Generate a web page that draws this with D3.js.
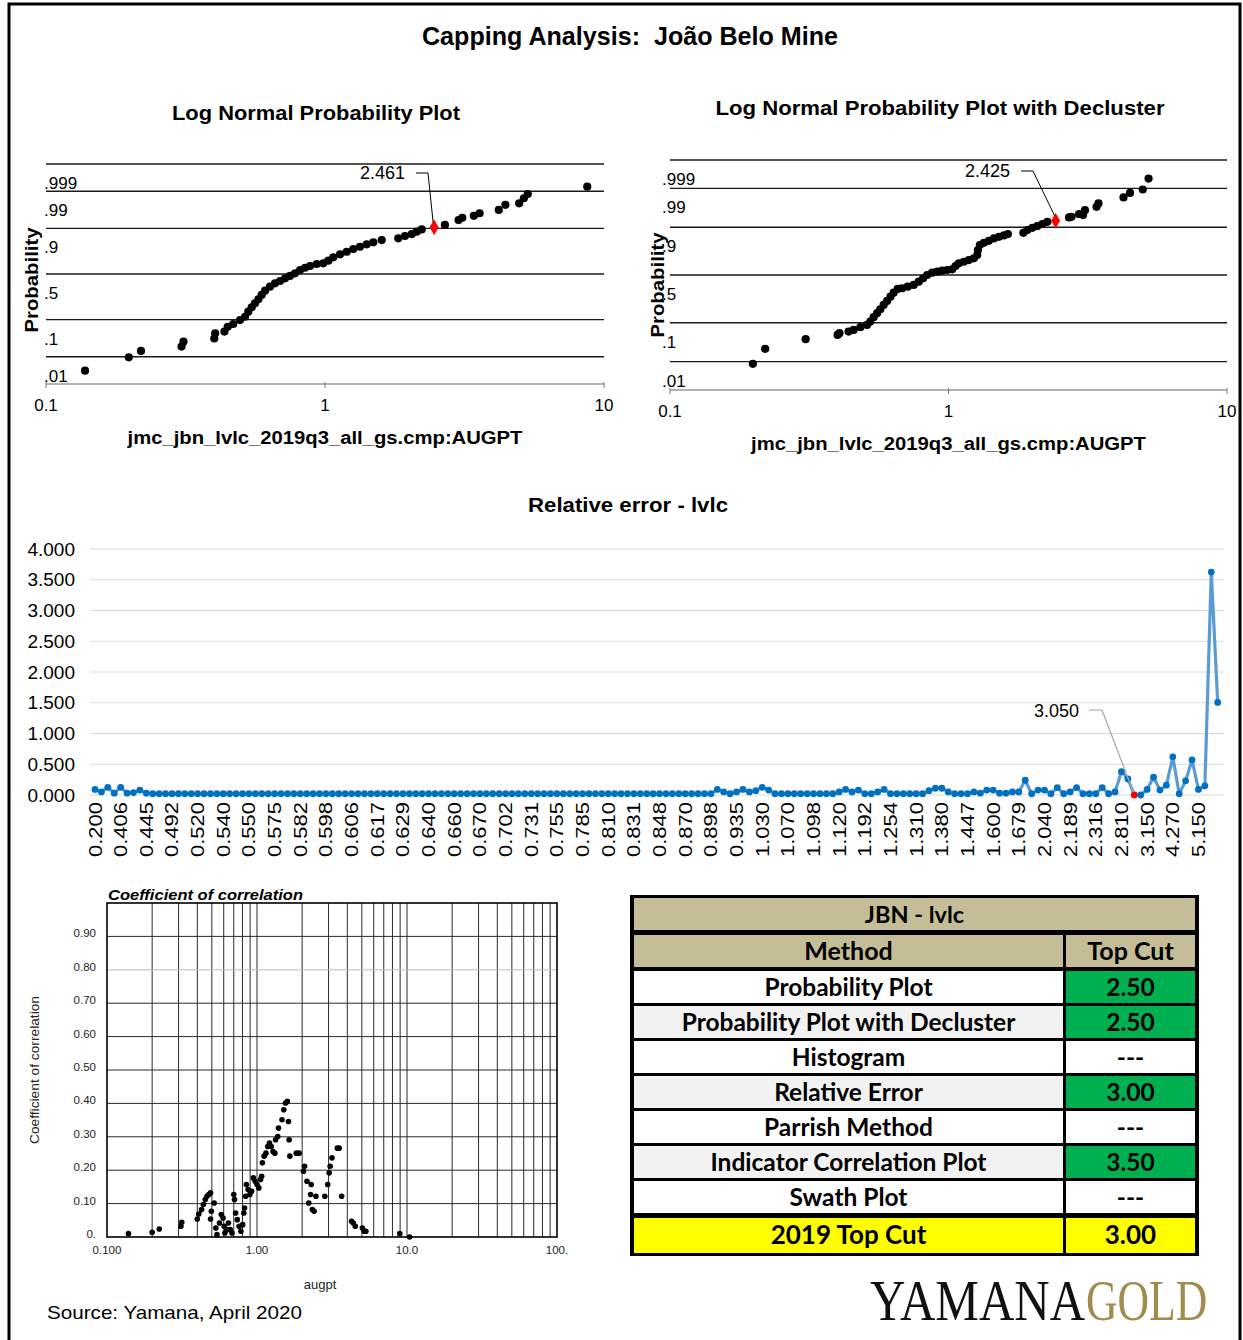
<!DOCTYPE html>
<html>
<head>
<meta charset="utf-8">
<script src="https://cdn.jsdelivr.net/npm/d3@7"></script>
<style>
  body { margin: 0; background: #fff; }
  svg { display: block; font-family: "Liberation Sans", Arial, sans-serif; }
</style>
</head>
<body>
<svg id="chart" width="1243" height="1340"></svg>
<script>
// ---- probability plot (raw) ----
const probGradeL = [0.138, 0.198, 0.219, 0.306, 0.311, 0.401, 0.404, 0.436, 0.448, 0.469,
  0.496, 0.517, 0.531, 0.546, 0.561, 0.577, 0.593, 0.610, 0.635, 0.662,
  0.690, 0.719, 0.749, 0.781, 0.814, 0.848, 0.884, 0.934, 0.986, 1.028,
  1.071, 1.132, 1.196, 1.263, 1.335, 1.411, 1.490, 1.597, 1.831, 1.935,
  2.046, 2.132, 2.222, 2.69, 3.01, 3.105, 3.415, 3.582, 4.197, 4.432,
  4.966, 5.16, 5.33, 8.71];
const probCumL = [0.0033, 0.0096, 0.0154, 0.0207, 0.0287, 0.035, 0.048, 0.053, 0.069, 0.080,
  0.098, 0.115, 0.145, 0.175, 0.205, 0.239, 0.278, 0.320, 0.361, 0.397,
  0.422, 0.452, 0.478, 0.508, 0.545, 0.570, 0.589, 0.611, 0.618, 0.646,
  0.680, 0.710, 0.734, 0.759, 0.778, 0.798, 0.813, 0.830, 0.842, 0.857,
  0.869, 0.883, 0.895, 0.916, 0.935, 0.943, 0.949, 0.956, 0.964, 0.974,
  0.9765, 0.9833, 0.9877, 0.9929];
const capL = { grade: 2.461, cum: 0.905, label: '2.461' };

// ---- probability plot (declustered) ----
const probGradeR = [0.1984, 0.2197, 0.307, 0.3997, 0.406, 0.4378, 0.4563, 0.4826, 0.510, 0.524,
  0.5385, 0.554, 0.569, 0.585, 0.602, 0.619, 0.6355, 0.657, 0.682, 0.714,
  0.750, 0.782, 0.811, 0.838, 0.874, 0.911, 0.949, 0.989, 1.031, 1.060,
  1.089, 1.135, 1.183, 1.233, 1.268, 1.275, 1.296, 1.340, 1.396, 1.455,
  1.517, 1.581, 1.634, 1.857, 1.919, 2.0, 2.085, 2.173, 2.265, 2.708,
  2.765, 2.943, 3.042, 3.09, 3.401, 3.455, 4.25, 4.486, 4.983, 5.228];
const probCumR = [0.0085, 0.0236, 0.0424, 0.0538, 0.059, 0.0643, 0.0701, 0.0805, 0.0901, 0.1053,
  0.1284, 0.1522, 0.1788, 0.2107, 0.2429, 0.2803, 0.3176, 0.3538, 0.3607, 0.3769,
  0.3943, 0.4287, 0.4647, 0.5, 0.5246, 0.5353, 0.5459, 0.5533, 0.5607, 0.5953,
  0.6231, 0.6393, 0.6562, 0.6728, 0.7041, 0.7486, 0.7894, 0.8067, 0.8211, 0.8374,
  0.8477, 0.8564, 0.8642, 0.8716, 0.8862, 0.8976, 0.9055, 0.9142, 0.9235, 0.9391,
  0.941, 0.949, 0.9462, 0.9593, 0.9665, 0.9727, 0.9814, 0.9863, 0.9892, 0.9952];
const capR = { grade: 2.425, cum: 0.9273, label: '2.425' };

const probTicks = [0.999, 0.99, 0.9, 0.5, 0.1, 0.01];
const probTickLabels = ['.999', '.99', '.9', '.5', '.1', '.01'];
const gradeTicks = [0.1, 1, 10];
const gradeTickLabels = ['0.1', '1', '10'];

// ---- relative error ----
const relErrTickLabels = ['0.200', '0.406', '0.445', '0.492', '0.520', '0.540', '0.550', '0.575', '0.582', '0.598',
  '0.606', '0.617', '0.629', '0.640', '0.660', '0.670', '0.702', '0.731', '0.755', '0.785',
  '0.810', '0.831', '0.848', '0.870', '0.898', '0.935', '1.030', '1.070', '1.098', '1.120',
  '1.192', '1.254', '1.310', '1.380', '1.447', '1.600', '1.679', '2.040', '2.189', '2.316',
  '2.810', '3.150', '4.270', '5.150'];
const relErr = [0.09, 0.05, 0.125, 0.03, 0.125, 0.03, 0.04, 0.08, 0.03,
  0.02, 0.02, 0.02, 0.02, 0.02, 0.02, 0.02, 0.02, 0.02, 0.02,
  0.02, 0.02, 0.02, 0.02, 0.02, 0.02, 0.02, 0.02, 0.02, 0.02,
  0.02, 0.02, 0.02, 0.02, 0.02, 0.02, 0.02, 0.02, 0.02, 0.02,
  0.02, 0.02, 0.02, 0.02, 0.02, 0.02, 0.02, 0.02, 0.02, 0.02,
  0.02, 0.02, 0.02, 0.02, 0.02, 0.02, 0.02, 0.02, 0.02, 0.02,
  0.02, 0.02, 0.02, 0.02, 0.02, 0.02, 0.02, 0.02, 0.02, 0.02,
  0.02, 0.02, 0.02, 0.02, 0.02, 0.02, 0.02, 0.02, 0.02, 0.02,
  0.02, 0.02, 0.02, 0.02, 0.02, 0.02, 0.02, 0.02, 0.02, 0.02,
  0.02, 0.02, 0.02, 0.02, 0.02, 0.02, 0.02, 0.02,
  0.09, 0.05, 0.02, 0.05, 0.09, 0.05, 0.07, 0.125, 0.08,
  0.02, 0.02, 0.02, 0.02, 0.02, 0.02, 0.02, 0.02, 0.02, 0.02,
  0.05, 0.09, 0.05, 0.08, 0.02, 0.02, 0.05, 0.09,
  0.02, 0.02, 0.02, 0.02, 0.02, 0.02,
  0.07, 0.11, 0.11, 0.05, 0.02,
  0.02, 0.02, 0.05, 0.03, 0.08, 0.08, 0.03, 0.03, 0.05, 0.05,
  0.24, 0.02, 0.08, 0.08, 0.02, 0.12, 0.02, 0.05, 0.12, 0.02,
  0.02, 0.02, 0.12, 0.02, 0.05, 0.38, 0.26, 0.00, 0.00, 0.09,
  0.29, 0.08, 0.16, 0.62, 0.02, 0.23, 0.57, 0.09, 0.15, 3.625,
  1.505];
const relErrCap = { index: 162, label: '3.050' };
const relErrYTicks = [0, 0.5, 1, 1.5, 2, 2.5, 3, 3.5, 4];

// ---- indicator correlation ----
const corrGrade = [0.139, 0.200, 0.223, 0.311, 0.315, 0.400, 0.409, 0.427, 0.439, 0.452,
  0.464, 0.477, 0.490, 0.490, 0.496, 0.518, 0.532, 0.541, 0.562, 0.578,
  0.594, 0.604, 0.611, 0.628, 0.645, 0.663, 0.681, 0.700, 0.708, 0.720,
  0.739, 0.760, 0.781, 0.803, 0.817, 0.826, 0.840, 0.849, 0.872, 0.896,
  0.921, 0.946, 0.972, 1.0, 1.028, 1.056, 1.074, 1.086, 1.116, 1.147,
  1.179, 1.211, 1.245, 1.279, 1.315, 1.330, 1.375, 1.391, 1.468, 1.509,
  1.550, 1.593, 1.621, 1.638, 1.656, 1.828, 1.909, 2.04, 2.075, 2.154,
  2.213, 2.275, 2.30, 2.339, 2.404, 2.471, 2.833, 2.96, 3.027, 3.075,
  3.162, 3.434, 3.53, 3.667, 4.27, 4.39, 4.52, 5.04, 5.18, 5.32,
  8.95, 10.4];
const corrCoef = [0.010, 0.014, 0.024, 0.032, 0.044, 0.054, 0.069, 0.082, 0.097, 0.112,
  0.122, 0.127, 0.132, 0.054, 0.077, 0.102, 0.027, 0.007, 0.042, 0.067,
  0.057, 0.032, 0.012, 0.022, 0.042, 0.022, 0.012, 0.127, 0.112, 0.072,
  0.052, 0.032, 0.017, 0.037, 0.072, 0.087, 0.122, 0.157, 0.142, 0.127,
  0.137, 0.177, 0.167, 0.157, 0.147, 0.172, 0.182, 0.222, 0.242, 0.251,
  0.271, 0.281, 0.271, 0.256, 0.251, 0.291, 0.301, 0.326, 0.351, 0.381,
  0.401, 0.406, 0.346, 0.291, 0.242, 0.251, 0.251, 0.197, 0.212, 0.167,
  0.102, 0.127, 0.157, 0.082, 0.077, 0.122, 0.122, 0.157, 0.192, 0.212,
  0.237, 0.266, 0.266, 0.122, 0.047, 0.042, 0.032, 0.027, 0.017, 0.017,
  0.010, 0.0];
const corrYTicks = [0, 0.1, 0.2, 0.3, 0.4, 0.5, 0.6, 0.7, 0.8, 0.9];
const corrYTickLabels = ['0.', '0.10', '0.20', '0.30', '0.40', '0.50', '0.60', '0.70', '0.80', '0.90'];
const corrXTicks = [0.1, 1, 10, 100];
const corrXTickLabels = ['0.100', '1.00', '10.0', '100.'];

// ---- summary table ----
const methods = ['Probability Plot', 'Probability Plot with Decluster', 'Histogram', 'Relative Error',
  'Parrish Method', 'Indicator Correlation Plot', 'Swath Plot'];
const topCuts = ['2.50', '2.50', '---', '3.00', '---', '3.50', '---'];
const finalMethod = '2019 Top Cut';
const finalCut = '3.00';

const svg = d3.select('#chart');

// normal quantile (Abramowitz & Stegun 26.2.23)
function probit(p) {
  const q = p < 0.5 ? p : 1 - p;
  const t = Math.sqrt(-2 * Math.log(q));
  const z = t - (2.515517 + 0.802853 * t + 0.010328 * t * t) /
    (1 + 1.432788 * t + 0.189269 * t * t + 0.001308 * t * t * t);
  return p < 0.5 ? -z : z;
}

function addText(g, x, y, txt, opts = {}) {
  const t = g.append('text').attr('x', x).attr('y', y).text(txt)
    .attr('font-size', opts.size || 17)
    .attr('font-weight', opts.weight || 'normal')
    .attr('text-anchor', opts.anchor || 'middle')
    .attr('fill', opts.fill || '#000')
    .style('white-space', 'pre');
  if (opts.family) t.attr('font-family', opts.family);
  if (opts.style) t.attr('font-style', opts.style);
  if (opts.len) t.attr('textLength', opts.len).attr('lengthAdjust', 'spacingAndGlyphs');
  if (opts.rotate) t.attr('transform', `rotate(${opts.rotate},${x},${y})`);
  return t;
}

function drawProbPlot(o) {
  const g = svg.append('g');
  const x = d3.scaleLog().domain([0.1, 10]).range([o.x0, o.x1]);
  const y = d3.scaleLinear().domain([probit(0.001), probit(0.999)]).range([o.yBottom, o.yTop]);

  // bottom axis
  const yAxis = y(probit(0.001));
  g.append('line').attr('x1', o.x0).attr('x2', o.x1).attr('y1', yAxis).attr('y2', yAxis)
    .attr('stroke', '#9a9a9a').attr('stroke-width', 1.5);
  g.selectAll('.tk').data(gradeTicks).join('line')
    .attr('x1', d => x(d)).attr('x2', d => x(d))
    .attr('y1', yAxis - 2).attr('y2', yAxis + 4)
    .attr('stroke', '#7a7a7a');
  g.selectAll('.tl').data(gradeTicks).join('text')
    .attr('x', d => x(d)).attr('y', o.tickY)
    .attr('text-anchor', 'middle').attr('font-size', 17)
    .text((d, i) => gradeTickLabels[i]);

  // probability lines and labels (labels sit below their lines)
  g.selectAll('.gl').data(probTicks).join('line')
    .attr('x1', o.x0).attr('x2', o.x1)
    .attr('y1', d => y(probit(d))).attr('y2', d => y(probit(d)))
    .attr('stroke', '#1a1a1a').attr('stroke-width', 1.4);
  g.selectAll('.pl').data(probTicks).join('text')
    .attr('x', o.labelX).attr('y', d => y(probit(d)) + 25)
    .attr('font-size', 17)
    .text((d, i) => probTickLabels[i]);

  // points
  g.selectAll('.pt').data(o.grades).join('circle')
    .attr('cx', d => x(d)).attr('cy', (d, i) => y(probit(o.cums[i])))
    .attr('r', 4.1).attr('fill', '#000');

  // top cut marker + callout
  const cx = x(o.cap.grade), cy = y(probit(o.cap.cum));
  g.append('path').attr('d', d3.symbol(d3.symbolDiamond, 70)())
    .attr('transform', `translate(${cx},${cy})`).attr('fill', '#ff0000');
  g.append('polyline')
    .attr('points', `${o.callX},${o.callY} ${o.callX + 12},${o.callY} ${cx - 1},${cy - 5}`)
    .attr('fill', 'none').attr('stroke', '#000').attr('stroke-width', 1);
  addText(g, o.callX - 11, o.callY + 6, o.cap.label, { anchor: 'end', size: 18 });

  addText(g, o.titleX, o.titleY, o.title, { weight: 'bold', size: 20, len: o.titleLen });
  addText(g, (o.x0 + o.x1) / 2, o.xTitleY, 'jmc_jbn_lvlc_2019q3_all_gs.cmp:AUGPT',
    { weight: 'bold', size: 18, len: 395 });
  addText(g, o.yTitleX, o.yTitleY, 'Probability', { weight: 'bold', size: 18, rotate: -90, len: 105 });
}

function drawRelErr() {
  const g = svg.append('g');
  const x = d3.scalePoint().domain(relErr.map((d, i) => i)).range([95, 1217.7]);
  const y = d3.scaleLinear().domain([0, 4]).range([795, 549]);

  g.selectAll('.gr').data(relErrYTicks).join('line')
    .attr('x1', 90).attr('x2', 1224)
    .attr('y1', d => y(d)).attr('y2', d => y(d))
    .attr('stroke', '#d9d9d9').attr('stroke-width', 1.2);

  const ax = g.append('g').attr('transform', 'translate(75,0)')
    .call(d3.axisLeft(y).tickValues(relErrYTicks).tickFormat(d3.format('.3f')).tickSize(0).tickPadding(0));
  ax.select('.domain').remove();
  ax.selectAll('text').attr('font-size', 19).attr('font-family', '"Liberation Sans", Arial, sans-serif')
    .attr('fill', '#000');

  g.selectAll('.xl').data(relErrTickLabels).join('text')
    .attr('transform', (d, k) => `translate(${x(k * 4) + 6.5},802) rotate(-90)`)
    .attr('text-anchor', 'end').attr('font-size', 18)
    .attr('textLength', 55).attr('lengthAdjust', 'spacingAndGlyphs')
    .text(d => d);

  g.append('path').datum(relErr)
    .attr('d', d3.line().x((d, i) => x(i)).y(d => y(d)))
    .attr('fill', 'none').attr('stroke', '#5b9bd5').attr('stroke-width', 3.2)
    .attr('stroke-linejoin', 'round');
  g.selectAll('.pt').data(relErr).join('circle')
    .attr('cx', (d, i) => x(i)).attr('cy', d => y(d)).attr('r', 3.4)
    .attr('fill', (d, i) => i === relErrCap.index ? '#ff0000' : '#0070c0');

  const cx = x(relErrCap.index), cy = y(relErr[relErrCap.index]);
  g.append('polyline')
    .attr('points', `1089,710 1102,710 ${cx - 1},${cy - 3}`)
    .attr('fill', 'none').attr('stroke', '#a6a6a6').attr('stroke-width', 1.2);
  addText(g, 1079, 717, relErrCap.label, { anchor: 'end', size: 18 });

  addText(g, 628, 512, 'Relative error - lvlc', { weight: 'bold', size: 20, len: 200 });
}

function drawCorr() {
  const g = svg.append('g');
  const x = d3.scaleLog().domain([0.1, 100]).range([107, 557]);
  const y = d3.scaleLinear().domain([0, 1]).range([1237, 903]);

  const vlines = [];
  [0.1, 1, 10].forEach(dec => { for (let k = 2; k <= 9; k++) vlines.push(dec * k); });
  vlines.push(1, 10);
  g.selectAll('.vl').data(vlines).join('line')
    .attr('x1', d => x(d)).attr('x2', d => x(d)).attr('y1', 903).attr('y2', 1237)
    .attr('stroke', '#2a2a2a').attr('stroke-width', 1);
  g.selectAll('.hl').data(corrYTicks.filter(d => d > 0)).join('line')
    .attr('x1', 107).attr('x2', 557).attr('y1', d => y(d)).attr('y2', d => y(d))
    .attr('stroke', d => d === 0.8 ? '#bdbdbd' : '#2a2a2a').attr('stroke-width', 1);
  g.append('rect').attr('x', 107).attr('y', 903).attr('width', 450).attr('height', 334)
    .attr('fill', 'none').attr('stroke', '#000').attr('stroke-width', 1.6);

  g.selectAll('.yl').data(corrYTicks).join('text')
    .attr('x', 96).attr('y', d => y(d) + 1).attr('text-anchor', 'end')
    .attr('font-size', 11.5).attr('fill', '#222')
    .text((d, i) => corrYTickLabels[i]);
  g.selectAll('.xl').data(corrXTicks).join('text')
    .attr('x', d => x(d)).attr('y', 1254).attr('text-anchor', 'middle')
    .attr('font-size', 11.5).attr('fill', '#222')
    .text((d, i) => corrXTickLabels[i]);

  g.selectAll('.pt').data(corrGrade).join('circle')
    .attr('cx', d => x(d)).attr('cy', (d, i) => y(corrCoef[i]))
    .attr('r', 2.8).attr('fill', '#000');

  addText(g, 108, 900, 'Coefficient of correlation', { anchor: 'start', weight: 'bold', style: 'italic', size: 15, len: 195 });
  addText(g, 320, 1289, 'augpt', { size: 13, fill: '#222' });
  addText(g, 39, 1070, 'Coefficient of correlation', { size: 13, rotate: -90, len: 148, fill: '#222' });
}

function drawTable() {
  const g = svg.append('g').attr('font-family', 'Lato, "Open Sans", sans-serif');
  const xl = 634, xm = 1064, xr = 1195;
  g.append('rect').attr('x', 630).attr('y', 895).attr('width', 569).attr('height', 361).attr('fill', '#000');

  const cell = (x0, x1, y0, y1, fill, txt, size) => {
    g.append('rect').attr('x', x0).attr('y', y0).attr('width', x1 - x0).attr('height', y1 - y0).attr('fill', fill);
    g.append('text').attr('x', (x0 + x1) / 2).attr('y', (y0 + y1) / 2 + 8.5)
      .attr('text-anchor', 'middle').attr('font-size', size || 24.5).attr('font-weight', 'bold')
      .attr('fill', '#000').text(txt);
  };

  cell(xl, xr, 898, 930, '#c4bd97', 'JBN - lvlc', 23.5);
  cell(xl, xm - 1, 935, 967, '#c4bd97', 'Method', 25);
  cell(xm + 2, xr, 935, 967, '#c4bd97', 'Top Cut', 25);
  methods.forEach((m, i) => {
    const y0 = 971 + i * 35, y1 = y0 + 32;
    const bg = i % 2 === 1 ? '#f2f2f2' : '#ffffff';
    cell(xl, xm - 1, y0, y1, bg, m);
    cell(xm + 2, xr, y0, y1, topCuts[i] === '---' ? '#ffffff' : '#00b050', topCuts[i]);
  });
  cell(xl, xm - 1, 1218, 1253, '#ffff00', finalMethod, 26);
  cell(xm + 2, xr, 1218, 1253, '#ffff00', finalCut, 26);
}

function drawLogo() {
  const logoFont = '"Liberation Serif", "DejaVu Serif", serif';
  svg.append('text').attr('transform', 'translate(870,1320) scale(0.875,1)')
    .attr('font-family', logoFont).attr('font-size', 56).attr('fill', '#111')
    .text('YAMANA');
  svg.append('text').attr('transform', 'translate(1086,1320) scale(0.78,1)')
    .attr('font-family', logoFont).attr('font-size', 56).attr('fill', '#a08c4c')
    .text('GOLD');
}

function init() {
  // outer frame
  svg.append('rect').attr('x', 9).attr('y', 4).attr('width', 1231).attr('height', 1350)
    .attr('fill', 'none').attr('stroke', '#000').attr('stroke-width', 3);

  addText(svg, 630, 45, 'Capping Analysis:  João Belo Mine', { weight: 'bold', size: 25, len: 416 });

  drawProbPlot({
    x0: 46, x1: 604, yTop: 164, yBottom: 384, labelX: 44, tickY: 411,
    grades: probGradeL, cums: probCumL, cap: capL, callX: 416, callY: 173,
    title: 'Log Normal Probability Plot', titleX: 316, titleY: 120, titleLen: 288,
    xTitleY: 444, yTitleX: 38, yTitleY: 280
  });
  drawProbPlot({
    x0: 670, x1: 1227, yTop: 160, yBottom: 390, labelX: 662, tickY: 417,
    grades: probGradeR, cums: probCumR, cap: capR, callX: 1021, callY: 171,
    title: 'Log Normal Probability Plot with Decluster', titleX: 940, titleY: 115, titleLen: 449,
    xTitleY: 450, yTitleX: 664, yTitleY: 285
  });

  drawRelErr();
  drawCorr();
  drawTable();

  addText(svg, 47, 1319, 'Source: Yamana, April 2020', { anchor: 'start', size: 18.5, len: 255 });
  drawLogo();
}

init();
</script>
</body>
</html>
